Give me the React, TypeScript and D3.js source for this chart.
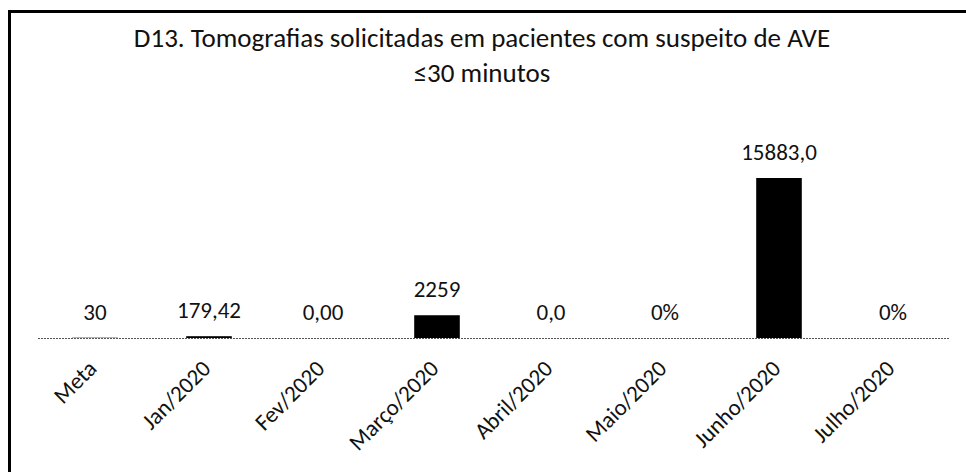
import React, { useEffect, useRef } from "react";
import * as d3 from "d3";

// chart data
const categories = [
  "Meta",
  "Jan/2020",
  "Fev/2020",
  "Março/2020",
  "Abril/2020",
  "Maio/2020",
  "Junho/2020",
  "Julho/2020",
];
const values = [30, 179.42, 0, 2259, 0, 0, 15883, 0];
const valueLabels = ["30", "179,42", "0,00", "2259", "0,0", "0%", "15883,0", "0%"];
const titleLines = [
  "D13. Tomografias solicitadas em pacientes com suspeito de AVE",
  "≤30 minutos",
];

const WIDTH = 966;
const HEIGHT = 472;
const FONT = "Carlito, Calibri, Lato, 'Open Sans', sans-serif";

export default function App() {
  const svgRef = useRef<SVGSVGElement>(null);

  useEffect(() => {
    if (!svgRef.current) return;
    const svg = d3.select(svgRef.current);
    svg.selectAll("*").remove();

    svg.append("rect").attr("width", WIDTH).attr("height", HEIGHT).attr("fill", "#fff");

    // frame (only left + top edges are visible in the scan)
    svg
      .append("path")
      .attr("d", `M9.5,${HEIGHT} V11.5 H${WIDTH}`)
      .attr("fill", "none")
      .attr("stroke", "#000")
      .attr("stroke-width", 3);

    // title
    const title = svg
      .append("text")
      .attr("text-anchor", "middle")
      .attr("font-family", FONT)
      .attr("font-size", 27)
      .attr("fill", "#111");
    title
      .selectAll("tspan")
      .data(titleLines)
      .enter()
      .append("tspan")
      .attr("x", 482)
      .attr("y", (_, i) => 47 + i * 35)
      .text((d) => d);

    const x = d3
      .scaleBand<string>()
      .domain(categories)
      .range([38, 950])
      .paddingInner(0.6)
      .paddingOuter(0.3);

    const baseY = 338;
    const y = d3
      .scaleLinear()
      .domain([0, 18000])
      .range([baseY, baseY - (160 * 18000) / 15883]);

    // bars
    svg
      .selectAll(".bar")
      .data(values)
      .enter()
      .append("rect")
      .attr("class", "bar")
      .attr("x", (_, i) => x(categories[i])!)
      .attr("y", (d) => y(d))
      .attr("width", x.bandwidth())
      .attr("height", (d) => baseY - y(d))
      .attr("fill", "#000");

    // category axis (dotted line in the scan)
    svg
      .append("line")
      .attr("x1", 38)
      .attr("x2", 950)
      .attr("y1", baseY + 0.5)
      .attr("y2", baseY + 0.5)
      .attr("stroke", "#555")
      .attr("stroke-width", 1)
      .attr("stroke-dasharray", "2,1");

    // data labels
    svg
      .selectAll(".value-label")
      .data(values)
      .enter()
      .append("text")
      .attr("class", "value-label")
      .attr("x", (_, i) => x(categories[i])! + x.bandwidth() / 2)
      .attr("y", (d) => y(d) - 18)
      .attr("text-anchor", "middle")
      .attr("font-family", FONT)
      .attr("font-size", 23)
      .attr("fill", "#111")
      .text((_, i) => valueLabels[i]);

    // rotated category labels
    svg
      .selectAll(".cat-label")
      .data(categories)
      .enter()
      .append("text")
      .attr("class", "cat-label")
      .attr(
        "transform",
        (d) => `translate(${x(d)! + x.bandwidth() / 2 + 3},${baseY + 32}) rotate(-45)`
      )
      .attr("text-anchor", "end")
      .attr("font-family", FONT)
      .attr("font-size", 23)
      .attr("fill", "#111")
      .text((d) => d);
  }, []);

  return (
    <svg
      ref={svgRef}
      width={WIDTH}
      height={HEIGHT}
      style={{ position: "absolute", left: 0, top: 0, display: "block" }}
    />
  );
}
